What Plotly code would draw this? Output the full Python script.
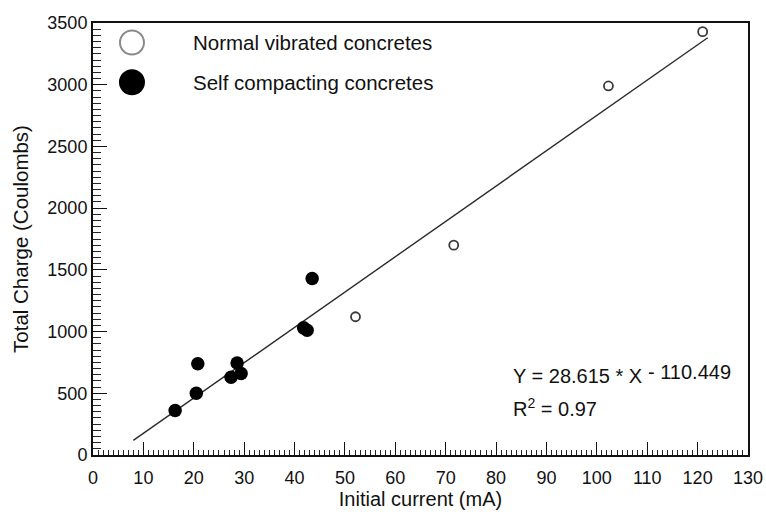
import plotly.graph_objects as go

# Initial current (mA) and total charge passed (Coulombs)
scc_current = [16.3, 20.5, 20.8, 27.4, 28.6, 29.4, 41.8, 42.5, 43.5]
scc_charge = [360, 500, 740, 630, 745, 660, 1030, 1010, 1430]

nvc_current = [52.1, 71.6, 102.3, 121.0]
nvc_charge = [1120, 1700, 2990, 3430]

# Linear regression reported for the combined data
slope = 28.615
intercept = -110.449
r_squared = 0.97
fit_range = [8.0, 122.0]

x_ticks = list(range(0, 131, 10))
y_ticks = list(range(0, 3501, 500))

FONT = "Liberation Sans, Arial, sans-serif"

fit_x = fit_range
fit_y = [slope * v + intercept for v in fit_range]

fig = go.Figure()

fig.add_trace(go.Scatter(
    x=fit_x, y=fit_y, mode="lines",
    line=dict(color="#2a2a2a", width=1.4),
    showlegend=False, hoverinfo="skip",
))
fig.add_trace(go.Scatter(
    x=nvc_current, y=nvc_charge, mode="markers",
    name="Normal vibrated concretes",
    marker=dict(symbol="circle-open", size=9, color="#3a3a3a",
                line=dict(width=1.8, color="#3a3a3a")),
    showlegend=False,
))
fig.add_trace(go.Scatter(
    x=scc_current, y=scc_charge, mode="markers",
    name="Self compacting concretes",
    marker=dict(symbol="circle", size=13.5, color="#000000"),
    showlegend=False,
))

# Key drawn in the upper-left corner of the plot area
key_items = [
    ("Normal vibrated concretes", 0.955, "white", "#8a8a8a"),
    ("Self compacting concretes", 0.863, "black", "black"),
]
for label, ypos, fill, edge in key_items:
    fig.add_shape(
        type="circle", xref="paper", yref="paper",
        xsizemode="pixel", ysizemode="pixel",
        xanchor=0.0595, yanchor=ypos,
        x0=-12, x1=12, y0=-12, y1=12,
        fillcolor=fill, line=dict(color=edge, width=2),
    )
    fig.add_annotation(
        x=0.149, y=ypos, xref="paper", yref="paper",
        xanchor="left", yanchor="middle", showarrow=False,
        text=label, font=dict(family=FONT, size=20.5, color="#111"),
    )

# Regression equation
fig.add_annotation(
    x=0.638, y=0.183, xref="paper", yref="paper",
    xanchor="left", yanchor="middle", showarrow=False,
    text=f"Y = {slope:.3f} * X", font=dict(family=FONT, size=20, color="#111"),
)
fig.add_annotation(
    x=0.845, y=0.191, xref="paper", yref="paper",
    xanchor="left", yanchor="middle", showarrow=False,
    text=f"- {abs(intercept):.3f}", font=dict(family=FONT, size=20, color="#111"),
)
fig.add_annotation(
    x=0.638, y=0.111, xref="paper", yref="paper",
    xanchor="left", yanchor="middle", showarrow=False,
    text=f"R<sup>2</sup> = {r_squared:.2f}", font=dict(family=FONT, size=20, color="#111"),
)

fig.update_layout(
    width=766, height=514,
    margin=dict(l=93, r=18, t=23, b=59, autoexpand=False),
    paper_bgcolor="white", plot_bgcolor="white",
    font=dict(family=FONT, size=18, color="#111"),
    showlegend=False,
)
fig.update_xaxes(
    range=[0, 130], tickvals=x_ticks, automargin=False,
    ticks="inside", ticklen=13, tickwidth=1.2, tickcolor="#111",
    minor=dict(dtick=1, ticks="inside", ticklen=5, tickwidth=1, tickcolor="#222"),
    showline=True, linecolor="#111", linewidth=2, mirror=True,
    showgrid=False, zeroline=False,
    tickfont=dict(size=18), ticklabelstandoff=5,
    title=dict(text="Initial current (mA)", font=dict(size=20), standoff=5),
)
fig.update_yaxes(
    range=[0, 3500], tickvals=y_ticks, automargin=False,
    ticks="inside", ticklen=14, tickwidth=1.2, tickcolor="#111",
    minor=dict(dtick=50, ticks="inside", ticklen=8, tickwidth=1, tickcolor="#222"),
    showline=True, linecolor="#111", linewidth=2, mirror=True,
    showgrid=False, zeroline=False,
    tickfont=dict(size=18),
    title=dict(text="Total Charge (Coulombs)", font=dict(size=20.5), standoff=13),
)

fig.write_html("out.html")
